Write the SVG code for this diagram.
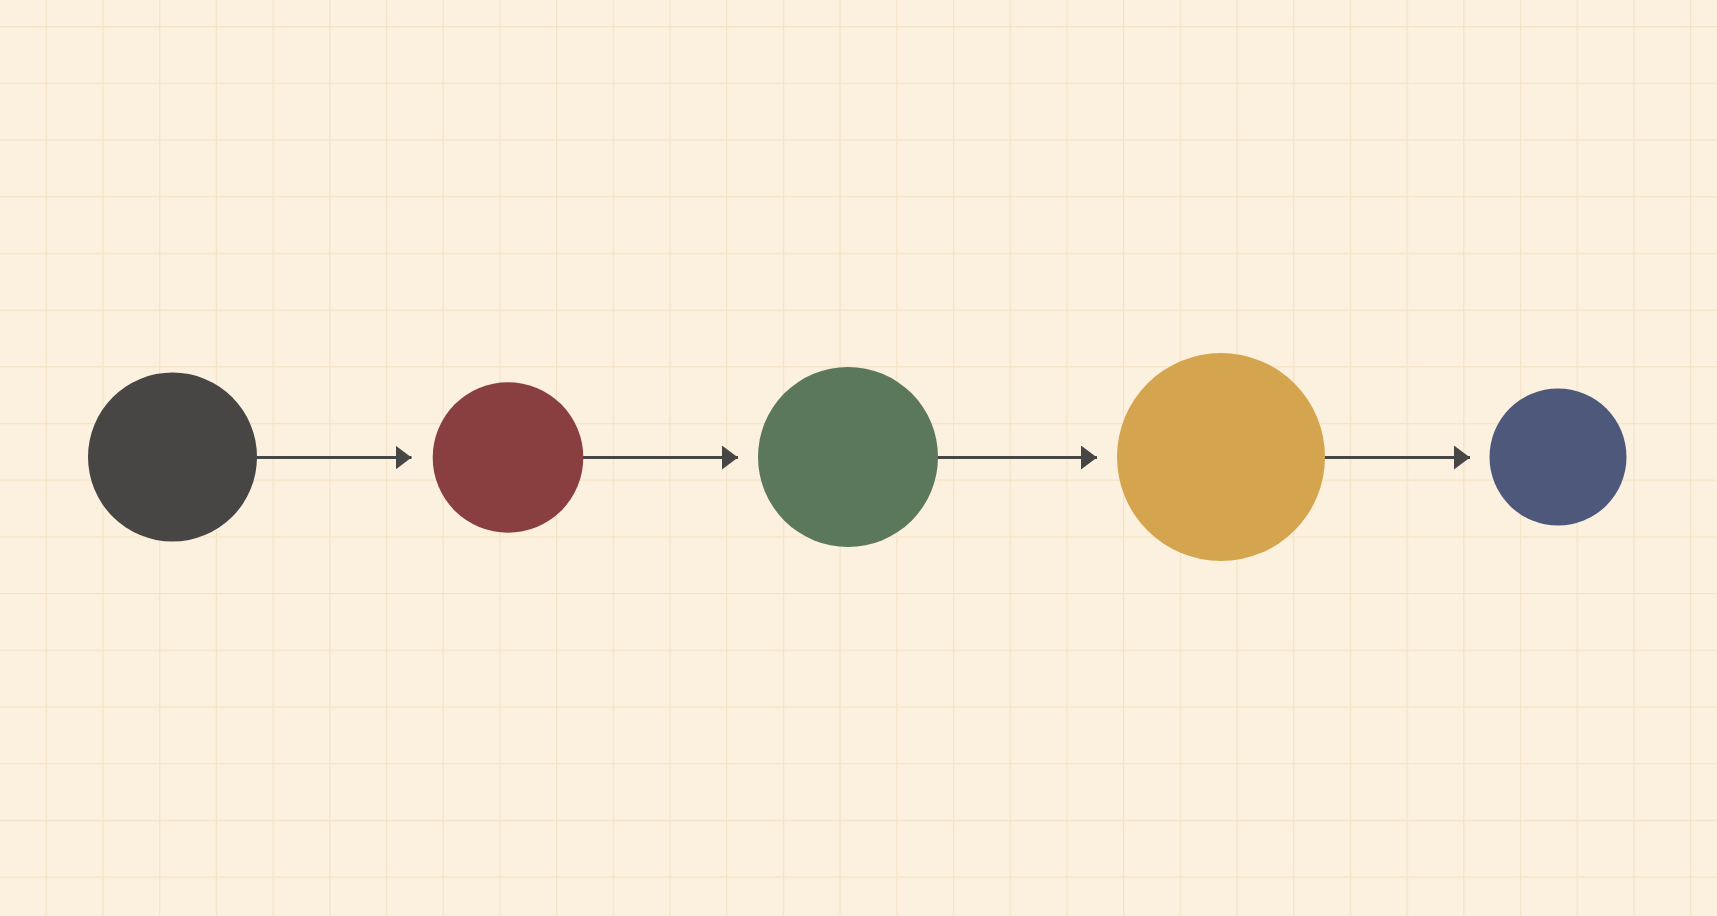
<svg xmlns="http://www.w3.org/2000/svg" width="1717" height="916" viewBox="0 0 1717 916">
  <defs>
    <pattern id="grid" patternUnits="userSpaceOnUse" x="45.7" y="26" width="56.7" height="56.7">
      <path d="M0.6 0V56.7M0 0.6H56.7" fill="none" stroke="#f3e3c6" stroke-width="1.3"/>
    </pattern>
    <marker id="arrow" viewBox="0 0 16 24" refX="16" refY="12" markerWidth="16" markerHeight="24" markerUnits="userSpaceOnUse" orient="auto">
      <path d="M0 0L16 12L0 24Z" fill="#474645"/>
    </marker>
  </defs>
  <style>
    .edge { stroke: #474645; stroke-width: 3.2; fill: none; }
  </style>
  <rect width="1717" height="916" fill="#fcf1de"/>
  <rect width="1717" height="916" fill="url(#grid)"/>
  <g id="connectors">
    <line class="edge" x1="256" y1="457.5" x2="411.5" y2="457.5" marker-end="url(#arrow)"/>
    <line class="edge" x1="583" y1="457.5" x2="738" y2="457.5" marker-end="url(#arrow)"/>
    <line class="edge" x1="937" y1="457.5" x2="1097" y2="457.5" marker-end="url(#arrow)"/>
    <line class="edge" x1="1324" y1="457.5" x2="1470" y2="457.5" marker-end="url(#arrow)"/>
  </g>
  <g id="node-1"><circle cx="172.5" cy="457" r="84.5" fill="#474645"/></g>
  <g id="node-2"><circle cx="508" cy="457.5" r="75.3" fill="#893e40"/></g>
  <g id="node-3"><circle cx="848" cy="457" r="90" fill="#5b785c"/></g>
  <g id="node-4"><circle cx="1221" cy="457" r="104" fill="#d4a54e"/></g>
  <g id="node-5"><circle cx="1558" cy="457" r="68.5" fill="#4d587b"/></g>
</svg>
